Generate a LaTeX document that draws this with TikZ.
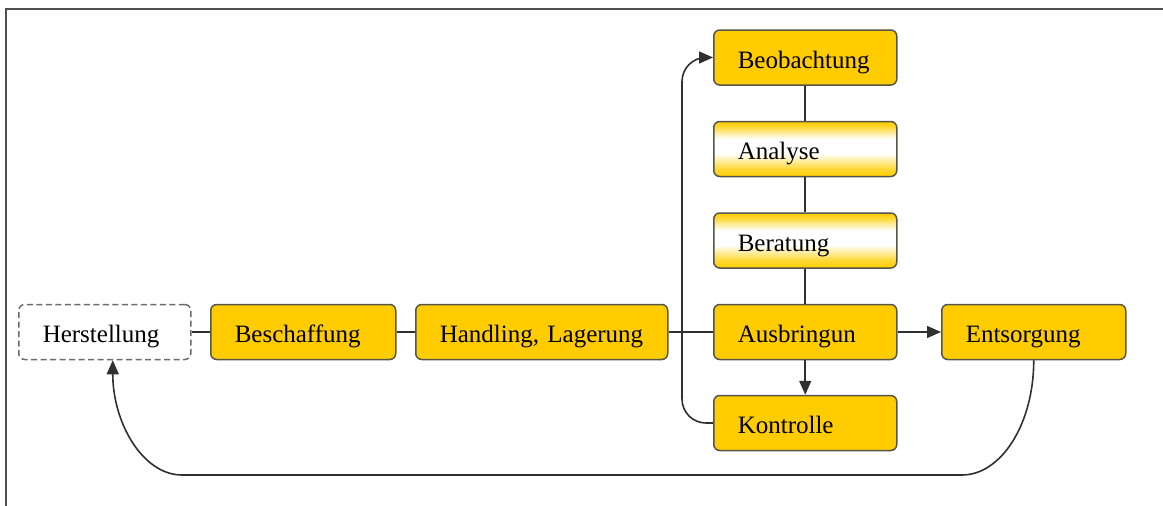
\documentclass[tikz,border=0pt]{standalone}
\usepackage{fontspec}
\setmainfont{Liberation Serif}
\usetikzlibrary{arrows.meta,calc}
\definecolor{gold}{HTML}{FFCC00}
\definecolor{softgold}{HTML}{FFD835}
\definecolor{palegold}{HTML}{FFEC9A}
\definecolor{edge}{HTML}{55554A}
\definecolor{wire}{HTML}{303030}
\definecolor{frame}{HTML}{505050}
% gold at top and bottom edge, white band in the middle
\pgfdeclareverticalshading{goldband}{100bp}{color(0bp)=(gold); color(25bp)=(gold); color(32bp)=(softgold); color(39bp)=(palegold); color(46bp)=(white); color(59bp)=(white); color(65bp)=(palegold); color(70bp)=(softgold); color(75bp)=(gold); color(100bp)=(gold)}

\begin{document}
\begin{tikzpicture}[x=1pt,y=-1pt,
  stage/.style={draw=edge, line width=1.5pt, rounded corners=6pt, fill=gold,
    minimum height=55pt, inner xsep=24pt, inner ysep=0pt, align=left,
    text height=21pt, text depth=0pt,
    font=\fontsize{25}{28}\selectfont, anchor=west},
  fadedstage/.style={stage, shade, shading=goldband},
  openstage/.style={stage, fill=white, draw=gray!85!black, dashed, dash pattern=on 6pt off 3.5pt},
  wire/.style={draw=wire, line width=1.6pt},
  flow/.style={wire, -{Triangle[length=14pt,width=12pt]}}
]
\useasboundingbox (0,0) rectangle (1163,506);

% outer frame (top and left edge)
\draw[frame, line width=2pt] (6,506) -- (6,8.5) -- (1163,8.5);

% main chain
\node[openstage, text width=124pt] (her) at (18,332) {Herstellung};
\node[stage, text width=137pt] (bes) at (210,332) {Beschaffung};
\node[stage, text width=204pt] (han) at (415,332) {Handling, Lagerung};
\node[stage, text width=135pt] (aus) at (713,332) {Ausbringun};
\node[stage, text width=136pt] (ent) at (941,332) {Entsorgung};

% column above and below the application step
\node[stage, text width=135pt] (beo) at (713,57.5) {Beobachtung};
\node[fadedstage, text width=135pt] (ana) at (713,149) {Analyse};
\node[fadedstage, text width=135pt] (ber) at (713,240.5) {Beratung};
\node[stage, text width=135pt] (kon) at (713,423) {Kontrolle};

% plain links
\draw[wire] (her) -- (bes);
\draw[wire] (bes) -- (han);
\draw[wire] (han) -- (aus);
\draw[wire] (beo) -- (ana);
\draw[wire] (ana) -- (ber);
\draw[wire] (ber) -- (aus);

% directed links
\draw[flow] (aus) -- (ent);
\draw[flow] (aus) -- (kon);

% feedback from control back to observation
\coordinate (bend) at (682,240);
\draw[flow, rounded corners=24pt] (kon.west) -| (bend) |- (beo.west);

% return loop from disposal back to production
\coordinate (r) at (962,475);
\coordinate (l) at (182,475);
\draw[flow] (ent.south) .. controls +(0,64) and +(39,0) .. (r) -- (l)
  .. controls +(-39,0) and +(0,63) .. ([xshift=8pt]her.south);
\end{tikzpicture}
\end{document}
